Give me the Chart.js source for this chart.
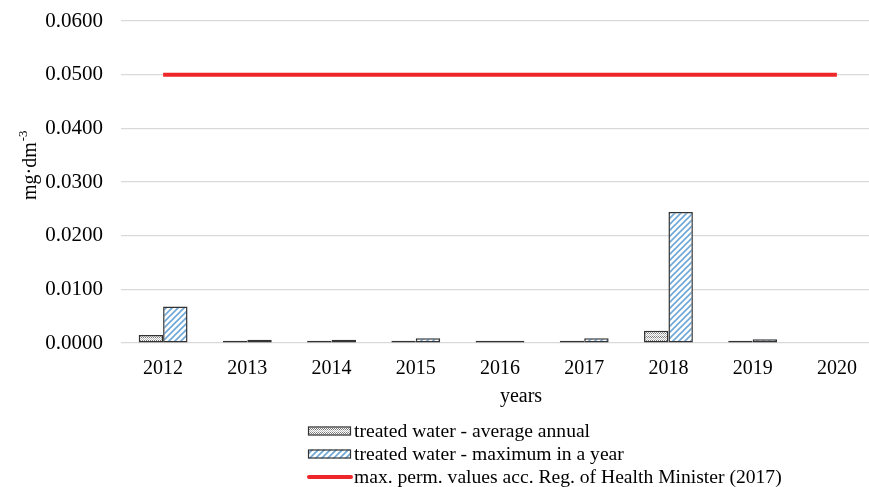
<!DOCTYPE html>
<html>
<head>
<meta charset="utf-8">
<script src="https://cdn.jsdelivr.net/npm/chart.js@4/dist/chart.umd.min.js"></script>
<style>
  html, body { margin: 0; padding: 0; background: #fff; overflow: hidden; }
  #wrap { width: 880px; height: 487px; }
</style>
</head>
<body>
<div id="wrap"><canvas id="c" width="880" height="487"></canvas></div>
<script>
// Years on the category axis
const years = ['2012', '2013', '2014', '2015', '2016', '2017', '2018', '2019', '2020'];
// Treated water, average annual concentration (mg·dm⁻³)
const avgAnnual = [0.0015, 0.0004, 0.0004, 0.0004, 0.0004, 0.0004, 0.0023, 0.0004, null];
// Treated water, maximum in a year (mg·dm⁻³)
const maxInYear = [0.0068, 0.0006, 0.0006, 0.0009, 0.0004, 0.0009, 0.0244, 0.0007, null];
// Maximum permissible value (Regulation of the Health Minister, 2017)
const permLimit = [0.05, 0.05, 0.05, 0.05, 0.05, 0.05, 0.05, 0.05, 0.05];
// Y axis ticks
const yTicks = [0, 0.01, 0.02, 0.03, 0.04, 0.05, 0.06];

const seriesNames = [
  'treated water - average annual',
  'treated water - maximum in a year',
  'max. perm. values acc. Reg. of Health Minister (2017)'
];

const SERIF = '"Liberation Serif", "Times New Roman", serif';

// Fine dotted cross-hatch fill for the annual average bars
function makeGridPattern() {
  const p = document.createElement('canvas');
  p.width = 4; p.height = 4;
  const g = p.getContext('2d');
  g.fillStyle = '#ffffff';
  g.fillRect(0, 0, 4, 4);
  g.fillStyle = '#7a7a7a';
  g.fillRect(0, 0, 1, 1);
  g.fillRect(2, 0, 1, 1);
  g.fillRect(1, 1, 1, 1);
  g.fillRect(3, 1, 1, 1);
  g.fillStyle = '#bdbdbd';
  g.fillRect(0, 2, 1, 1);
  g.fillRect(2, 2, 1, 1);
  g.fillRect(1, 3, 1, 1);
  g.fillRect(3, 3, 1, 1);
  return g.createPattern(p, 'repeat');
}

// Upward diagonal blue hatch for the yearly maximum bars
function makeDiagPattern() {
  const s = 6;
  const p = document.createElement('canvas');
  p.width = s; p.height = s;
  const g = p.getContext('2d');
  g.fillStyle = '#ffffff';
  g.fillRect(0, 0, s, s);
  g.strokeStyle = '#6fa6d6';
  g.lineWidth = 1.6;
  g.beginPath();
  g.moveTo(-1, s + 1); g.lineTo(s + 1, -1);
  g.moveTo(-1 - s, s + 1); g.lineTo(1, -1);
  g.moveTo(s - 1, s + 1); g.lineTo(2 * s + 1, -1);
  g.stroke();
  return g.createPattern(p, 'repeat');
}

const gridFill = makeGridPattern();
const diagFill = makeDiagPattern();

// Axis titles and the stacked legend under the plot
const decorations = {
  id: 'decorations',
  afterDraw(chart) {
    const ctx = chart.ctx;
    ctx.save();
    ctx.fillStyle = '#000';

    // x axis title
    ctx.font = '20px ' + SERIF;
    ctx.textAlign = 'center';
    ctx.textBaseline = 'alphabetic';
    ctx.fillText('years', 521, 402);

    // y axis title with superscript
    ctx.save();
    ctx.translate(36, 200);
    ctx.rotate(-Math.PI / 2);
    ctx.textAlign = 'left';
    ctx.font = '20px ' + SERIF;
    ctx.fillText('mg·dm', 0, 0);
    const w = ctx.measureText('mg·dm').width;
    ctx.font = '13px ' + SERIF;
    ctx.fillText('-3', w + 1, -9);
    ctx.restore();

    // legend
    const ds = chart.data.datasets;
    const x0 = 308, boxW = 43, boxH = 9, rows = [431, 454, 477];
    ctx.font = '19.6px ' + SERIF;
    ctx.textAlign = 'left';
    ctx.textBaseline = 'middle';
    ds.forEach((d, i) => {
      const y = rows[i];
      if (d.type === 'line') {
        ctx.strokeStyle = d.borderColor;
        ctx.lineWidth = 4;
        ctx.lineCap = 'round';
        ctx.beginPath();
        ctx.moveTo(x0 + 1, y);
        ctx.lineTo(x0 + boxW, y);
        ctx.stroke();
      } else {
        ctx.fillStyle = d.backgroundColor;
        ctx.fillRect(x0, y - boxH / 2, boxW, boxH);
        ctx.strokeStyle = d.borderColor;
        ctx.lineWidth = 1.2;
        ctx.strokeRect(x0 + 0.5, y - boxH / 2 + 0.5, boxW - 1, boxH - 1);
      }
      ctx.fillStyle = '#000';
      ctx.fillText(d.label, x0 + boxW + 3, y + 1);
    });
    ctx.restore();
  }
};

new Chart(document.getElementById('c'), {
  data: {
    labels: years,
    datasets: [
      {
        type: 'bar',
        label: seriesNames[0],
        data: avgAnnual,
        backgroundColor: gridFill,
        borderColor: '#333333',
        borderWidth: 1.5,
        borderSkipped: false,
        order: 2
      },
      {
        type: 'bar',
        label: seriesNames[1],
        data: maxInYear,
        backgroundColor: diagFill,
        borderColor: '#333333',
        borderWidth: 1.5,
        borderSkipped: false,
        order: 2
      },
      {
        type: 'line',
        label: seriesNames[2],
        data: permLimit,
        borderColor: '#ef2629',
        borderWidth: 4,
        pointRadius: 0,
        fill: false,
        order: 1
      }
    ]
  },
  options: {
    responsive: false,
    animation: false,
    devicePixelRatio: 1,
    layout: { padding: { top: 21, right: 1, bottom: 0, left: 0 } },
    datasets: {
      bar: { categoryPercentage: 0.58, barPercentage: 1.0 }
    },
    plugins: {
      legend: { display: false },
      tooltip: { enabled: false }
    },
    scales: {
      x: {
        offset: true,
        grid: { display: false, drawTicks: false },
        border: { display: false },
        ticks: {
          color: '#000',
          font: { family: SERIF, size: 20 },
          padding: 14,
          maxRotation: 0
        },
        afterFit(scale) { scale.height = 144; }
      },
      y: {
        min: 0,
        max: 0.06,
        afterBuildTicks(scale) { scale.ticks = yTicks.map(v => ({ value: v })); },
        grid: {
          color: '#d9d9d9',
          lineWidth: 1.2,
          drawTicks: true,
          tickLength: 18,
          tickColor: 'rgba(0,0,0,0)'
        },
        border: { display: false },
        ticks: {
          color: '#000',
          font: { family: SERIF, size: 21 },
          padding: 0,
          callback: v => Number(v).toFixed(4)
        },
        afterFit(scale) { scale.width = 121; }
      }
    }
  },
  plugins: [decorations]
});
</script>
</body>
</html>
